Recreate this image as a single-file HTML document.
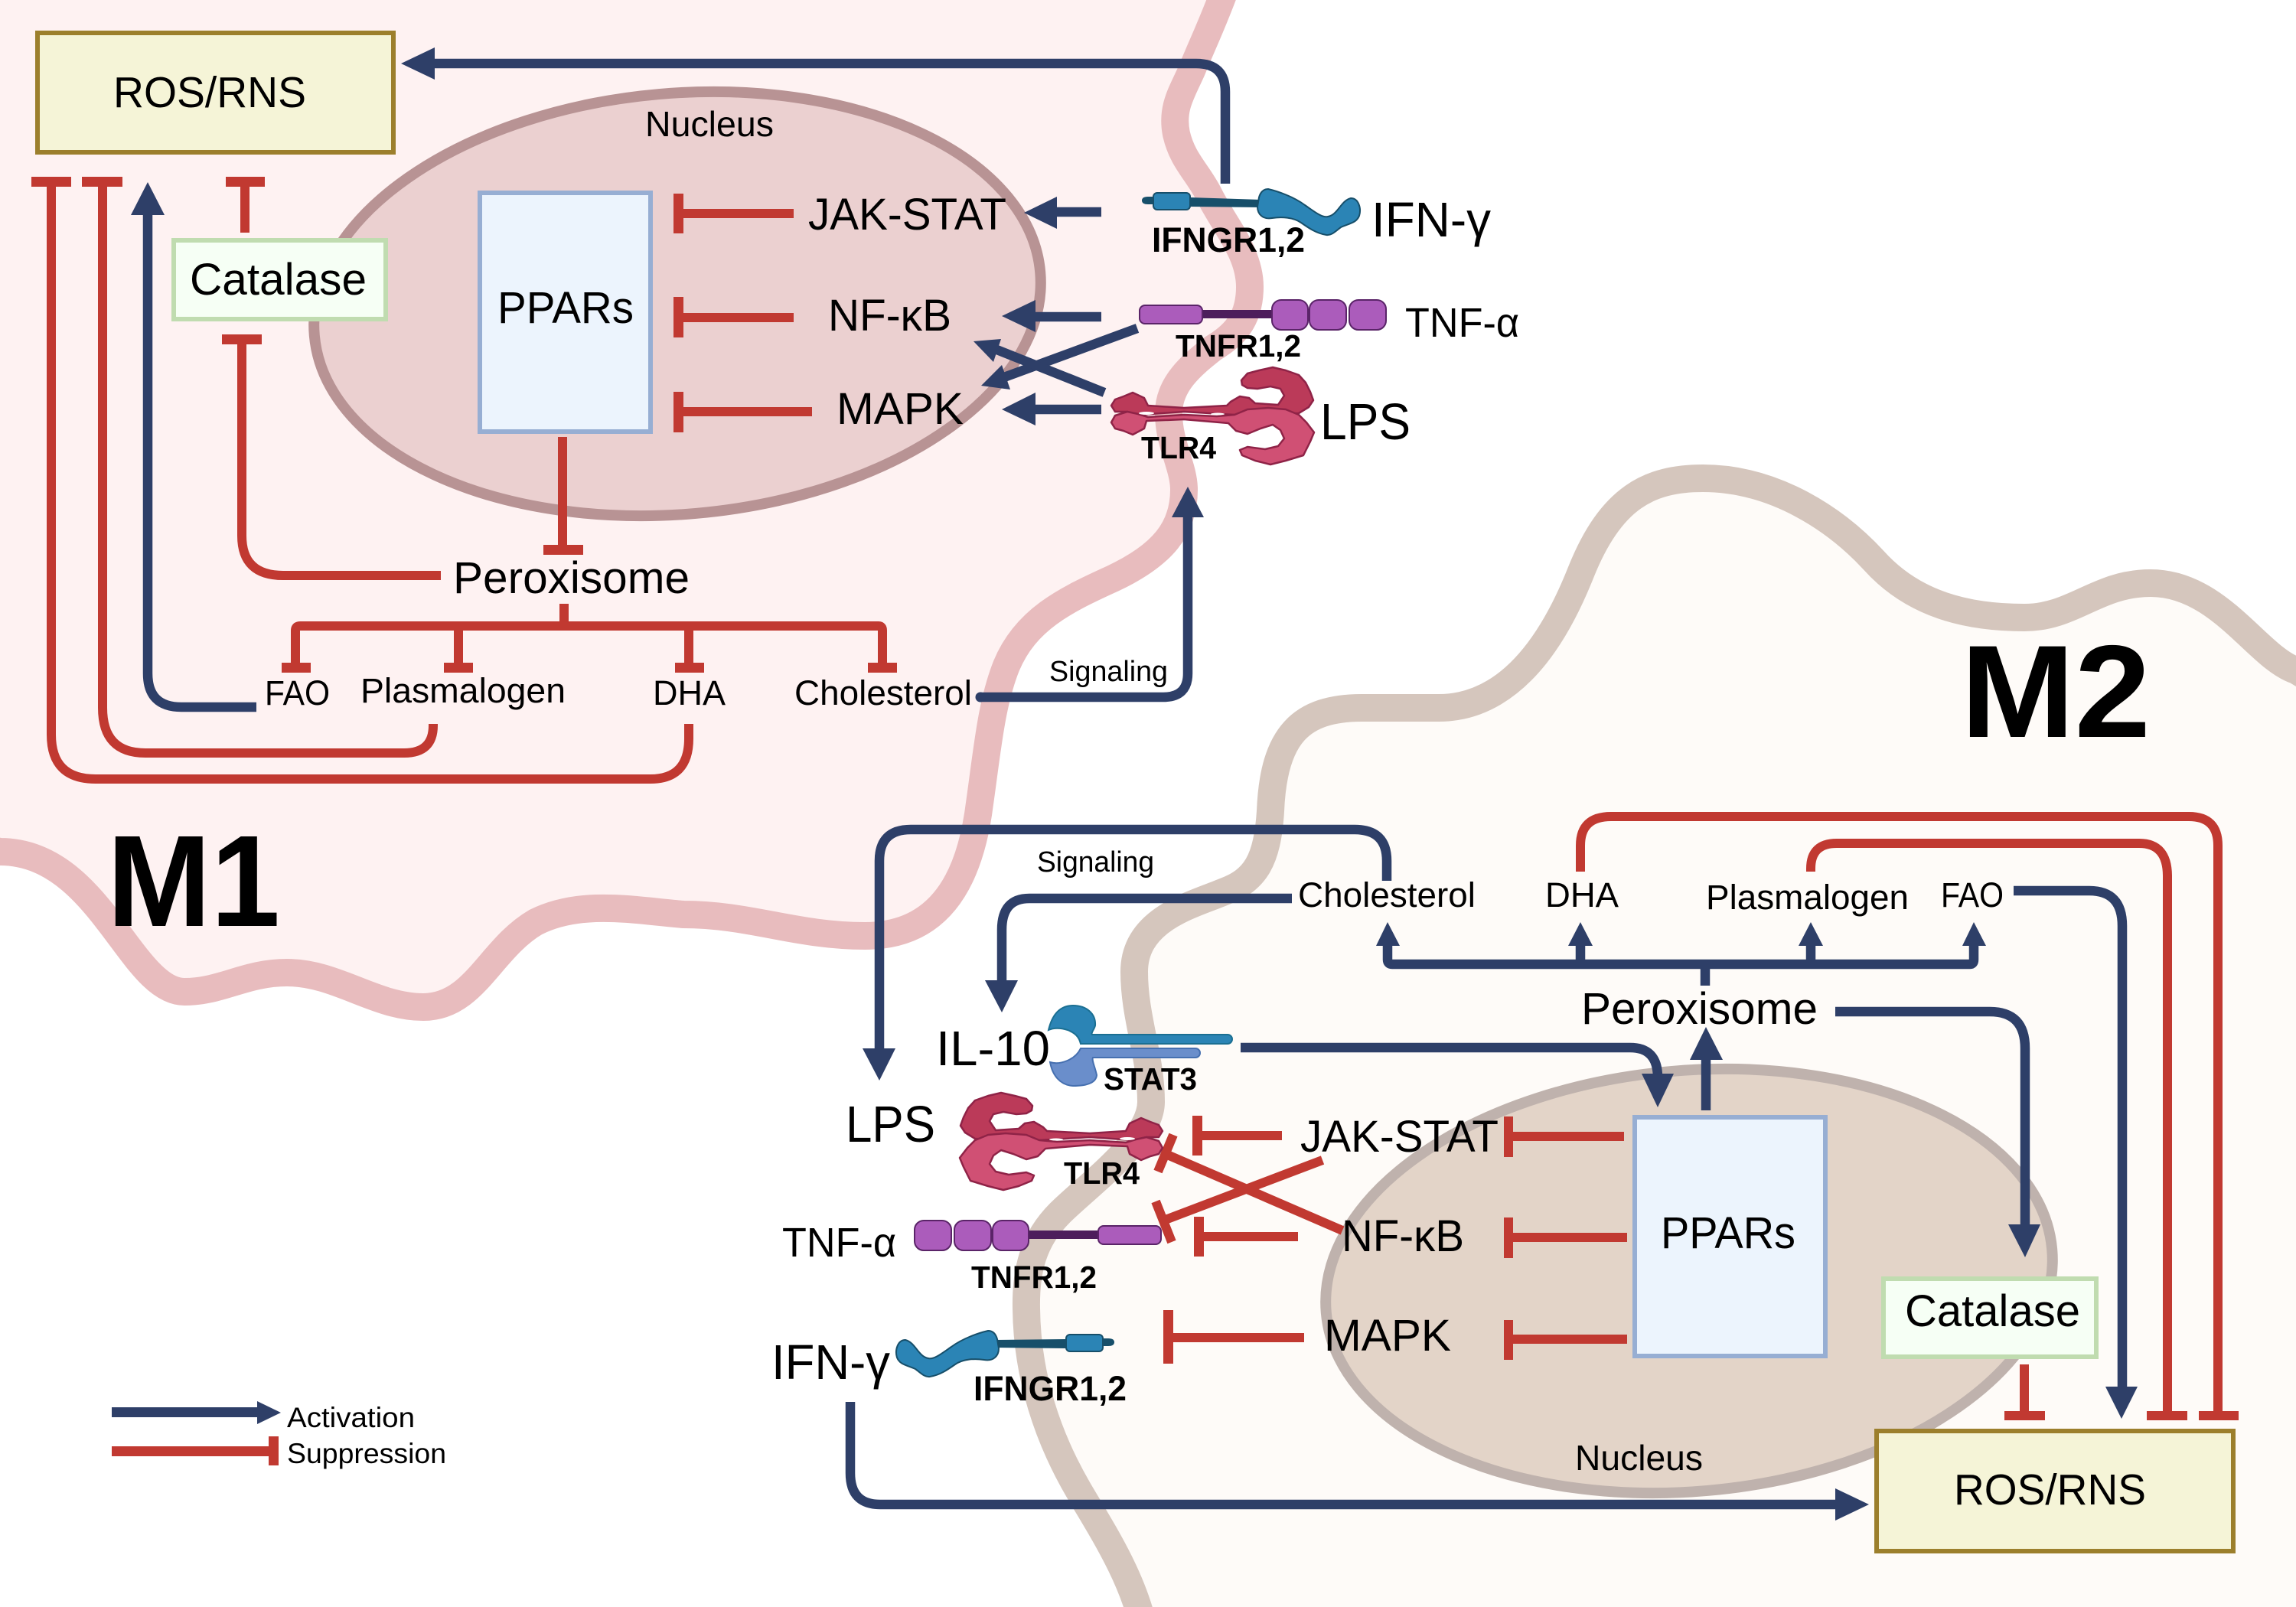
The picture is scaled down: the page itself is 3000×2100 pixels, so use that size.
<!DOCTYPE html>
<html><head><meta charset="utf-8"><style>
html,body{margin:0;padding:0;background:#fff}
svg{display:block}
text{font-family:"Liberation Sans",sans-serif;fill:#000}
.b{font-weight:700}
.r{fill:none;stroke:#c13931;stroke-width:12}
.n{fill:none;stroke:#2e3f68;stroke-width:12.5}
.rb{fill:#c13931}
.nh{fill:#2e3f68}
.tl{stroke:#8f2347;stroke-width:2.5;stroke-linejoin:round}
</style></head><body>
<svg width="3000" height="2100" viewBox="0 0 3000 2100" xmlns="http://www.w3.org/2000/svg">
<defs></defs>
<rect width="3000" height="2100" fill="#fff"/>
<!-- M1 cell -->
<path d="M1603,-20 C1585,30 1570,60 1558,90 C1545,120 1530,140 1537,175 C1545,210 1565,225 1580,255 C1600,295 1633,330 1633,375 C1633,420 1610,440 1585,455 C1560,475 1527,500 1527,540 C1527,580 1547,610 1547,640 C1547,690 1520,725 1454,756 C1390,785 1340,810 1315,870 C1295,920 1290,980 1280,1050 C1270,1130 1240,1223 1130,1223 C1040,1223 980,1195 893,1195 C830,1190 760,1175 700,1205 C640,1240 620,1316 553,1316 C490,1316 440,1271 375,1271 C320,1271 290,1296 241,1296 C170,1296 130,1113 0,1113 L-40,1105 L-40,-20 Z" fill="#fef2f2" stroke="#e8bcbe" stroke-width="36"/>
<!-- M2 cell -->
<path d="M3040,900 L3000,876 C2950,860 2900,762 2810,762 C2740,762 2710,807 2645,807 C2570,807 2500,790 2448,732 C2400,680 2320,625 2225,625 C2155,625 2105,650 2066,747 C2045,800 1990,925 1880,925 L1780,925 C1700,925 1664,960 1660,1060 C1656,1125 1640,1150 1600,1165 C1560,1182 1482,1200 1482,1270 C1482,1330 1504,1380 1504,1440 C1504,1490 1420,1550 1385,1585 C1350,1620 1340,1660 1341,1710 C1342,1800 1370,1880 1409,1947 C1440,2000 1480,2060 1495,2130 L3040,2130 Z" fill="#fefbf8" stroke="#d5c6bd" stroke-width="36"/>
<!-- nuclei -->
<ellipse cx="885" cy="397" rx="476" ry="275" transform="rotate(-5 885 397)" fill="#ebd0d0" stroke="#b89394" stroke-width="14"/>
<ellipse cx="2207" cy="1674" rx="476" ry="275" transform="rotate(-5 2207 1674)" fill="#e3d4c8" stroke="#bfb2ad" stroke-width="14"/>
<!-- boxes -->
<rect x="49" y="43" width="465" height="156" fill="#f5f4d7" stroke="#9c7f2c" stroke-width="6"/>
<rect x="227" y="314" width="277" height="103" fill="#f6fff5" stroke="#c0dcb0" stroke-width="6"/>
<rect x="627" y="252" width="223" height="312" fill="#ecf4fd" stroke="#97aed3" stroke-width="6"/>
<rect x="2452" y="1870" width="466" height="157" fill="#f5f4d7" stroke="#9c7f2c" stroke-width="6"/>
<rect x="2461" y="1671" width="278" height="102" fill="#f6fff5" stroke="#c0dcb0" stroke-width="6"/>
<rect x="2136" y="1460" width="249" height="312" fill="#ecf4fd" stroke="#97aed3" stroke-width="6"/>

<!-- M1 connectors -->
<path class="n" d="M1601,240 V120 Q1601,83 1563,83 H560"/><polygon class="nh" points="524,83 568,62 568,104"/>
<path class="r" d="M67,240 V960 Q67,1018 125,1018 H850 Q900,1018 900,965 V946"/><rect class="rb" x="41" y="231" width="52" height="13"/>
<path class="r" d="M134,240 V925 Q134,984 190,984 H528 Q566,984 566,948 V946"/><rect class="rb" x="107" y="231" width="53" height="13"/>
<path class="n" d="M193,275 V880 Q193,924 237,924 H335"/><polygon class="nh" points="193,238 171,281 215,281"/>
<path class="r" d="M320,240 V304"/><rect class="rb" x="295" y="231" width="51" height="13"/>
<path class="r" d="M316,444 V700 Q316,752 370,752 H576"/><rect class="rb" x="290" y="437" width="52" height="13"/>
<path class="r" d="M880,279 H1037 M880,415 H1037 M880,538 H1061"/>
<rect class="rb" x="880" y="253" width="13" height="52"/><rect class="rb" x="880" y="388" width="13" height="53"/><rect class="rb" x="880" y="512" width="13" height="53"/>
<path class="r" d="M735,571 V716"/><rect class="rb" x="710" y="712" width="52" height="13"/>
<path class="r" d="M737,789 V818 M386,870 V824 Q386,818 392,818 H1148 Q1153,818 1153,824 V870 M599,818 V870 M900,818 V870"/>
<rect class="rb" x="368" y="866" width="38" height="13"/><rect class="rb" x="580" y="866" width="38" height="13"/><rect class="rb" x="882" y="866" width="38" height="13"/><rect class="rb" x="1134" y="866" width="38" height="13"/>
<path class="n" d="M1281,911 H1520 Q1552,911 1552,880 V670" /><circle cx="1281" cy="911" r="6.5" fill="#2e3f68"/><polygon class="nh" points="1552,636 1531,676 1573,676"/>
<path class="n" d="M1439,277 H1375 M1439,414 H1347 M1439,535 H1347"/>
<polygon class="nh" points="1338,278 1381,257 1381,299"/><polygon class="nh" points="1309,413 1353,392 1353,434"/><polygon class="nh" points="1309,535 1353,513 1353,556"/>
<path class="n" d="M1486,429 L1312,493"/><polygon class="nh" points="1282,504 1309,477 1320,509"/>
<path class="n" d="M1443,513 L1300,456"/><polygon class="nh" points="1272,446 1308,443 1298,473"/>

<!-- M2 connectors -->
<path class="n" d="M1812,1151 V1125 Q1812,1084 1770,1084 H1190 Q1149,1084 1149,1125 V1375"/><polygon class="nh" points="1149,1412 1127,1370 1170,1370"/>
<path class="n" d="M1688,1174 H1345 Q1309,1174 1309,1215 V1285"/><polygon class="nh" points="1309,1323 1287,1281 1330,1281"/>
<path class="n" d="M1813,1236 V1254 Q1813,1260 1819,1260 H2574 Q2579,1260 2579,1254 V1236 M2065,1236 V1260 M2366,1236 V1260 M2228,1260 V1288"/>
<polygon class="nh" points="1813,1205 1798,1236 1829,1236"/><polygon class="nh" points="2065,1205 2049,1236 2081,1236"/><polygon class="nh" points="2366,1205 2350,1236 2382,1236"/><polygon class="nh" points="2579,1205 2564,1236 2595,1236"/>
<path class="n" d="M2398,1322 H2600 Q2646,1322 2646,1370 V1605"/><polygon class="nh" points="2646,1643 2624,1600 2666,1600"/>
<path class="n" d="M2631,1164 H2730 Q2773,1164 2773,1210 V1816"/><polygon class="nh" points="2772,1854 2751,1812 2793,1812"/>
<path class="r" d="M2366,1139 V1135 Q2366,1102 2400,1102 H2795 Q2832,1102 2832,1145 V1850"/><rect class="rb" x="2805" y="1844" width="53" height="12"/>
<path class="r" d="M2065,1139 V1105 Q2065,1067 2105,1067 H2860 Q2898,1067 2898,1105 V1850"/><rect class="rb" x="2873" y="1844" width="52" height="12"/>
<path class="r" d="M2645,1783 V1850"/><rect class="rb" x="2619" y="1844" width="53" height="12"/>
<path class="n" d="M2229,1451 V1380"/><polygon class="nh" points="2229,1342 2208,1385 2251,1385"/>
<path class="n" d="M1621,1369 H2130 Q2166,1369 2166,1408"/><polygon class="nh" points="2166,1447 2145,1403 2187,1403"/>
<path class="r" d="M1971,1485 H2122 M1971,1617 H2126 M1971,1750 H2126"/>
<rect class="rb" x="1965" y="1459" width="12" height="53"/><rect class="rb" x="1965" y="1591" width="12" height="53"/><rect class="rb" x="1965" y="1725" width="12" height="52"/>
<path class="r" d="M1565,1484 H1675 M1566,1616 H1696 M1526,1748 H1704" stroke-width="12"/>
<rect class="rb" x="1558" y="1458" width="13" height="52"/><rect class="rb" x="1560" y="1590" width="13" height="52"/><rect class="rb" x="1520" y="1712" width="13" height="70"/>
<path class="r" d="M1754,1608 L1523,1508 M1533,1483 L1513,1531 M1728,1516 L1520,1595 M1510,1570 L1531,1623"/>
<path class="n" d="M1111,1832 V1925 Q1111,1966 1150,1966 H2400"/><polygon class="nh" points="2442,1966 2398,1945 2398,1987"/>

<!-- M1 receptors -->
<path d="M1500,257 H1510 V267 H1500 Q1492,267 1492,262 Q1492,257 1500,257Z" fill="#174f6a"/>
<path d="M1555,258 L1648,261 V271 L1555,270Z" fill="#174f6a"/>
<rect x="1507" y="252" width="48" height="22" rx="5" fill="#2b84b5" stroke="#174f6a" stroke-width="2"/>
<path d="M1645,258 Q1648,247 1657,247 C1670,250 1690,257 1705,268 C1718,277 1728,285 1735,283 C1748,281 1752,262 1765,259 C1775,259 1779,272 1776,282 C1772,292 1762,292 1752,297 C1745,302 1740,308 1733,307 C1720,305 1710,298 1700,291 C1690,284 1675,283 1662,285 C1650,287 1643,280 1643,270Z" fill="#2b84b5" stroke="#174f6a" stroke-width="2"/>

<rect x="1571" y="405" width="92" height="11" fill="#4d1e5c"/>
<rect x="1489" y="399" width="82" height="24" rx="7" fill="#ab5cbb" stroke="#5a2468" stroke-width="2"/>
<rect x="1662" y="392" width="47" height="39" rx="12" fill="#ab5cbb" stroke="#5a2468" stroke-width="2"/>
<rect x="1711" y="392" width="48" height="39" rx="12" fill="#ab5cbb" stroke="#5a2468" stroke-width="2"/>
<rect x="1763" y="392" width="48" height="39" rx="12" fill="#ab5cbb" stroke="#5a2468" stroke-width="2"/>

<polygon class="tl" fill="#bb3a59" points="1622,497 1630,488 1645,484 1663,480 1680,484 1697,490 1706,500 1712,512 1716,523 1710,532 1697,540 1613,542 1547,538 1490,542 1473,538 1457,538 1452,530 1457,522 1468,518 1480,513 1495,520 1500,530 1547,533 1603,530 1608,525 1620,518 1632,520 1640,527 1670,529 1678,517 1673,508 1660,505 1643,508 1630,507 1623,503"/>
<polygon class="tl" fill="#d05074" points="1452,552 1457,543 1473,538 1487,541 1500,545 1547,542 1590,544 1613,542 1630,535 1657,533 1680,535 1697,542 1707,552 1717,565 1712,577 1703,595 1680,602 1660,607 1640,602 1623,595 1620,588 1630,584 1653,587 1670,583 1678,573 1673,562 1663,555 1647,560 1630,567 1615,563 1605,553 1547,548 1498,550 1495,560 1480,568 1468,563 1457,560"/>
<ellipse cx="1498" cy="540" rx="10" ry="2" fill="#fff"/><ellipse cx="1591" cy="541" rx="9" ry="1.5" fill="#fff"/>

<!-- M2 receptors -->
<g transform="matrix(-1 0 0 1 2948 1492)">
<path d="M1500,257 H1510 V267 H1500 Q1492,267 1492,262 Q1492,257 1500,257Z" fill="#174f6a"/>
<path d="M1555,258 L1648,259 V269 L1555,270Z" fill="#174f6a"/>
<rect x="1507" y="252" width="48" height="22" rx="5" fill="#2b84b5" stroke="#174f6a" stroke-width="2"/>
<path d="M1645,258 Q1648,247 1657,247 C1670,250 1690,257 1705,268 C1718,277 1728,285 1735,283 C1748,281 1752,262 1765,259 C1775,259 1779,272 1776,282 C1772,292 1762,292 1752,297 C1745,302 1740,308 1733,307 C1720,305 1710,298 1700,291 C1690,284 1675,283 1662,285 C1650,287 1643,280 1643,270Z" fill="#2b84b5" stroke="#174f6a" stroke-width="2"/>
</g>
<g transform="matrix(-1 0 0 1 3006 1203)">
<rect x="1571" y="405" width="92" height="11" fill="#4d1e5c"/>
<rect x="1489" y="399" width="82" height="24" rx="7" fill="#ab5cbb" stroke="#5a2468" stroke-width="2"/>
<rect x="1662" y="392" width="47" height="39" rx="12" fill="#ab5cbb" stroke="#5a2468" stroke-width="2"/>
<rect x="1711" y="392" width="48" height="39" rx="12" fill="#ab5cbb" stroke="#5a2468" stroke-width="2"/>
<rect x="1763" y="392" width="48" height="39" rx="12" fill="#ab5cbb" stroke="#5a2468" stroke-width="2"/>
</g>
<g transform="matrix(-1 0 0 1 2971 948)">
<polygon class="tl" fill="#bb3a59" points="1622,497 1630,488 1645,484 1663,480 1680,484 1697,490 1706,500 1712,512 1716,523 1710,532 1697,540 1613,542 1547,538 1490,542 1473,538 1457,538 1452,530 1457,522 1468,518 1480,513 1495,520 1500,530 1547,533 1603,530 1608,525 1620,518 1632,520 1640,527 1670,529 1678,517 1673,508 1660,505 1643,508 1630,507 1623,503"/>
<polygon class="tl" fill="#d05074" points="1452,552 1457,543 1473,538 1487,541 1500,545 1547,542 1590,544 1613,542 1630,535 1657,533 1680,535 1697,542 1707,552 1717,565 1712,577 1703,595 1680,602 1660,607 1640,602 1623,595 1620,588 1630,584 1653,587 1670,583 1678,573 1673,562 1663,555 1647,560 1630,567 1615,563 1605,553 1547,548 1498,550 1495,560 1480,568 1468,563 1457,560"/>
<ellipse cx="1498" cy="540" rx="10" ry="2" fill="#fff"/><ellipse cx="1591" cy="541" rx="9" ry="1.5" fill="#fff"/>
</g>
<path d="M1372,1388 C1385,1392 1405,1385 1412,1370 H1562 A6,6 0 0 1 1562,1382 H1428 C1426,1385 1431,1395 1433,1405 C1432,1415 1420,1419 1402,1419 C1385,1418 1375,1405 1372,1388Z" fill="#6a8ecb" stroke="#4670b0" stroke-width="2"/>
<path d="M1370,1346 C1375,1325 1385,1314 1402,1314 C1420,1314 1432,1325 1431,1340 C1430,1345 1425,1350 1427,1352 H1604 A6,6 0 0 1 1604,1364 H1412 C1410,1355 1405,1350 1395,1346 C1385,1343 1377,1343 1370,1346Z" fill="#2b84b5" stroke="#1b6f92" stroke-width="2"/>

<!-- legend -->
<rect class="nh" x="146" y="1839" width="190" height="13"/><polygon class="nh" points="367,1846 336,1831 336,1861"/>
<rect class="rb" x="146" y="1890" width="205" height="13"/><rect class="rb" x="351" y="1877" width="13" height="38"/>
<text x="375" y="1865" font-size="37" textLength="167" lengthAdjust="spacingAndGlyphs">Activation</text>
<text x="375" y="1912" font-size="37" textLength="208" lengthAdjust="spacingAndGlyphs">Suppression</text>

<!-- M1 text -->
<text x="148" y="140" font-size="57" textLength="252" lengthAdjust="spacingAndGlyphs">ROS/RNS</text>
<text x="843" y="178" font-size="46" textLength="168" lengthAdjust="spacingAndGlyphs">Nucleus</text>
<text x="248" y="385" font-size="58" textLength="231" lengthAdjust="spacingAndGlyphs">Catalase</text>
<text x="650" y="422" font-size="58" textLength="178" lengthAdjust="spacingAndGlyphs">PPARs</text>
<text x="1056" y="300" font-size="58" textLength="259" lengthAdjust="spacingAndGlyphs">JAK-STAT</text>
<text x="1082" y="432" font-size="58" textLength="161" lengthAdjust="spacingAndGlyphs">NF-κB</text>
<text x="1093" y="554" font-size="58" textLength="166" lengthAdjust="spacingAndGlyphs">MAPK</text>
<text x="1792" y="309" font-size="64" textLength="156" lengthAdjust="spacingAndGlyphs">IFN-γ</text>
<text class="b" x="1505" y="329" font-size="45" textLength="200" lengthAdjust="spacingAndGlyphs">IFNGR1,2</text>
<text x="1836" y="440" font-size="54" textLength="149" lengthAdjust="spacingAndGlyphs">TNF-α</text>
<text class="b" x="1536" y="466" font-size="41" textLength="164" lengthAdjust="spacingAndGlyphs">TNFR1,2</text>
<text x="1725" y="574" font-size="67" textLength="118" lengthAdjust="spacingAndGlyphs">LPS</text>
<text class="b" x="1491" y="599" font-size="41" textLength="98" lengthAdjust="spacingAndGlyphs">TLR4</text>
<text x="592" y="775" font-size="58" textLength="309" lengthAdjust="spacingAndGlyphs">Peroxisome</text>
<text x="346" y="921" font-size="45" textLength="85" lengthAdjust="spacingAndGlyphs">FAO</text>
<text x="471" y="918" font-size="45" textLength="268" lengthAdjust="spacingAndGlyphs">Plasmalogen</text>
<text x="853" y="921" font-size="45" textLength="95" lengthAdjust="spacingAndGlyphs">DHA</text>
<text x="1038" y="921" font-size="45" textLength="232" lengthAdjust="spacingAndGlyphs">Cholesterol</text>
<text x="1371" y="890" font-size="38" textLength="155" lengthAdjust="spacingAndGlyphs">Signaling</text>
<text class="b" x="140" y="1210" font-size="170" textLength="226" lengthAdjust="spacingAndGlyphs">M1</text>

<!-- M2 text -->
<text class="b" x="2562" y="963" font-size="172" textLength="248" lengthAdjust="spacingAndGlyphs">M2</text>
<text x="2019" y="1185" font-size="45" textLength="96" lengthAdjust="spacingAndGlyphs">DHA</text>
<text x="2229" y="1188" font-size="45" textLength="265" lengthAdjust="spacingAndGlyphs">Plasmalogen</text>
<text x="2536" y="1185" font-size="45" textLength="82" lengthAdjust="spacingAndGlyphs">FAO</text>
<text x="2066" y="1338" font-size="58" textLength="309" lengthAdjust="spacingAndGlyphs">Peroxisome</text>
<text x="1696" y="1185" font-size="45" textLength="232" lengthAdjust="spacingAndGlyphs">Cholesterol</text>
<text x="1355" y="1139" font-size="38" textLength="153" lengthAdjust="spacingAndGlyphs">Signaling</text>
<text x="1223" y="1392" font-size="64" textLength="149" lengthAdjust="spacingAndGlyphs">IL-10</text>
<text class="b" x="1442" y="1424" font-size="41" textLength="122" lengthAdjust="spacingAndGlyphs">STAT3</text>
<text x="1105" y="1492" font-size="67" textLength="117" lengthAdjust="spacingAndGlyphs">LPS</text>
<text class="b" x="1390" y="1547" font-size="41" textLength="99" lengthAdjust="spacingAndGlyphs">TLR4</text>
<text x="1022" y="1642" font-size="54" textLength="149" lengthAdjust="spacingAndGlyphs">TNF-α</text>
<text class="b" x="1269" y="1683" font-size="41" textLength="164" lengthAdjust="spacingAndGlyphs">TNFR1,2</text>
<text x="1008" y="1802" font-size="64" textLength="155" lengthAdjust="spacingAndGlyphs">IFN-γ</text>
<text class="b" x="1272" y="1830" font-size="45" textLength="200" lengthAdjust="spacingAndGlyphs">IFNGR1,2</text>
<text x="1699" y="1505" font-size="58" textLength="259" lengthAdjust="spacingAndGlyphs">JAK-STAT</text>
<text x="1753" y="1635" font-size="58" textLength="160" lengthAdjust="spacingAndGlyphs">NF-κB</text>
<text x="1730" y="1765" font-size="58" textLength="166" lengthAdjust="spacingAndGlyphs">MAPK</text>
<text x="2058" y="1921" font-size="46" textLength="167" lengthAdjust="spacingAndGlyphs">Nucleus</text>
<text x="2489" y="1733" font-size="58" textLength="229" lengthAdjust="spacingAndGlyphs">Catalase</text>
<text x="2170" y="1631" font-size="58" textLength="176" lengthAdjust="spacingAndGlyphs">PPARs</text>
<text x="2553" y="1966" font-size="57" textLength="251" lengthAdjust="spacingAndGlyphs">ROS/RNS</text>
</svg>
</body></html>
